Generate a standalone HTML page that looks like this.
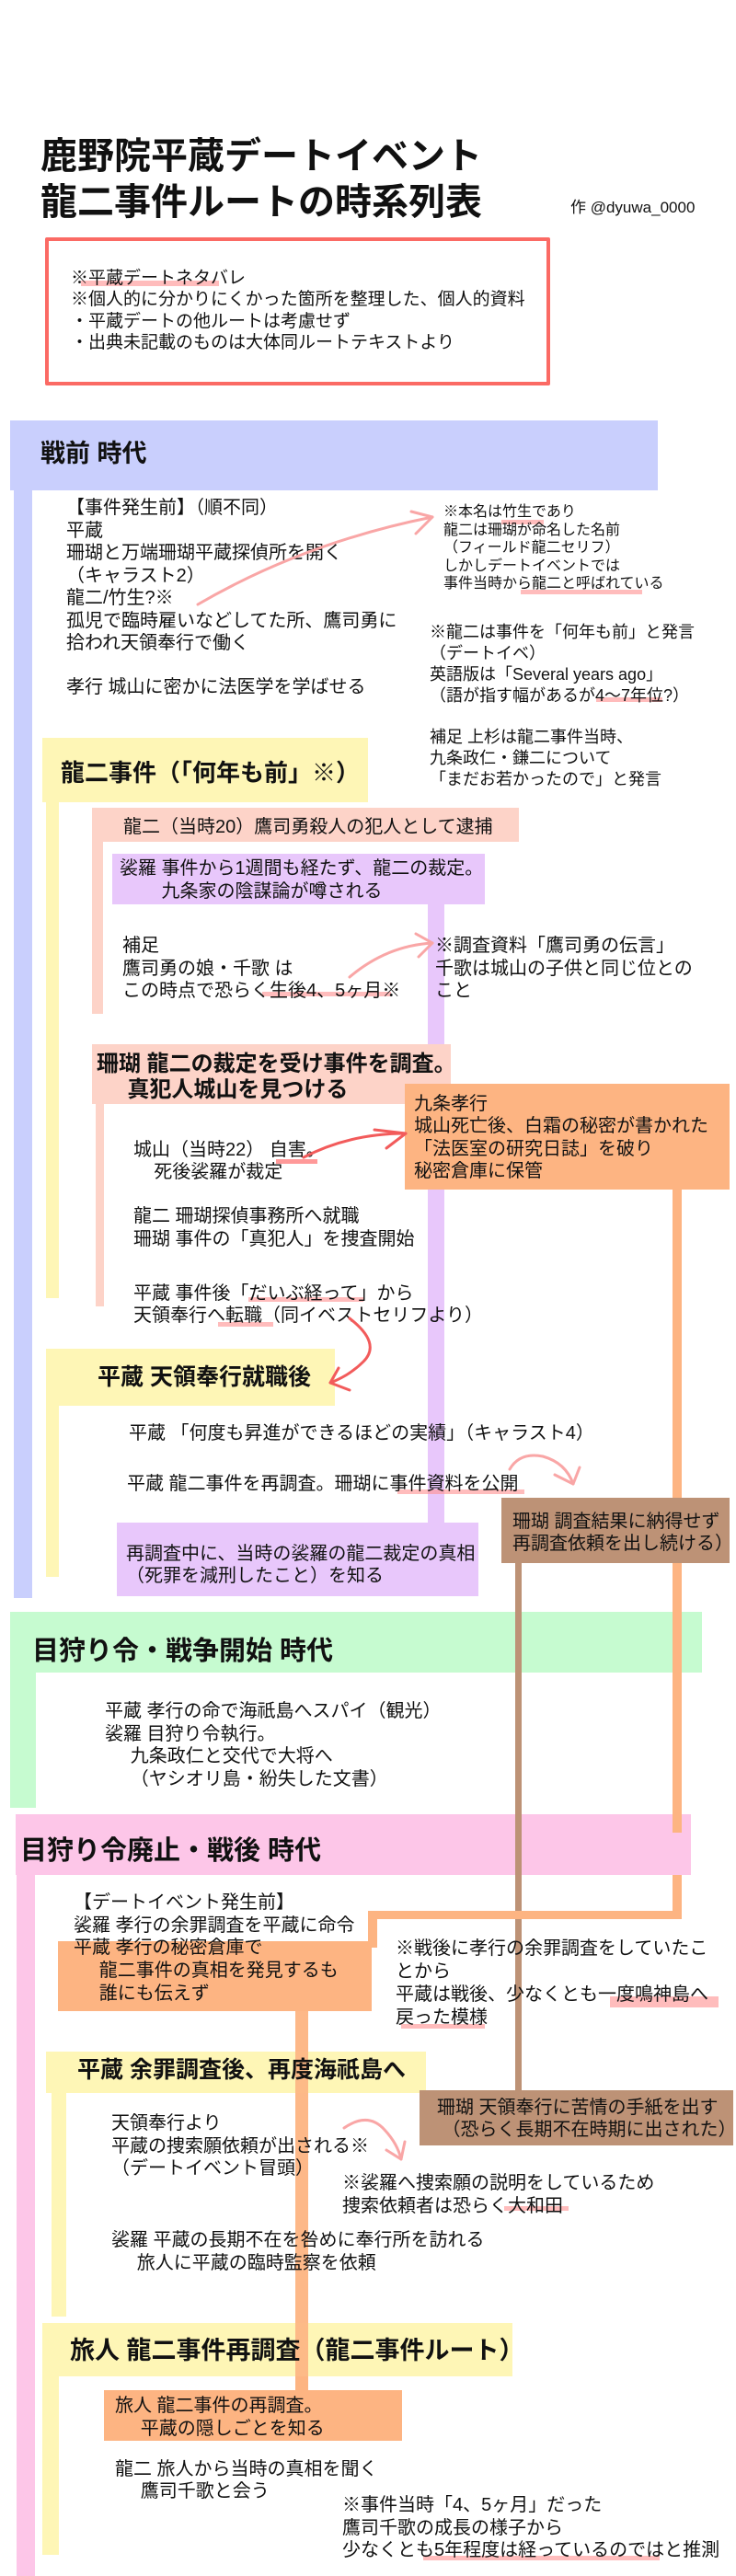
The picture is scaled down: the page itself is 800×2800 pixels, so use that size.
<!DOCTYPE html>
<html><head><meta charset="utf-8">
<style>
*{margin:0;padding:0;box-sizing:border-box}
body{width:800px;height:2800px;position:relative;background:#fff;overflow:hidden;font-family:"Liberation Sans","Noto Sans CJK JP",sans-serif;color:#111}
div{position:absolute}
.t{white-space:pre;font-size:20px;line-height:24.5px}
.hl{background:#ff8f8f;opacity:.6;height:5px}
</style></head><body>
<!-- title -->
<div class="t" style="left:44px;top:145px;font-size:40px;line-height:50px;font-weight:bold">鹿野院平蔵デートイベント
龍二事件ルートの時系列表</div>
<div class="t" style="left:620px;top:215px;font-size:17px;line-height:22px">作 @dyuwa_0000</div>
<div style="left:49px;top:258px;width:549px;height:161px;border:4px solid #fb6a64;border-radius:2px"></div>
<div class="hl" style="left:88px;top:305px;width:150px;height:6px"></div>
<div class="t" style="left:77px;top:291px;font-size:19px;line-height:23.3px">※平蔵デートネタバレ
※個人的に分かりにくかった箇所を整理した、個人的資料
・平蔵デートの他ルートは考慮せず
・出典未記載のものは大体同ルートテキストより</div>

<!-- 戦前 -->
<div style="left:11px;top:457px;width:704px;height:76px;background:#c9cffd"></div>
<div style="left:15px;top:533px;width:20px;height:1204px;background:#c9cffd"></div>
<div class="t" style="left:44px;top:475px;font-size:27px;line-height:36px;font-weight:bold">戦前 時代</div>
<div class="t" style="left:72px;top:540px">【事件発生前】（順不同）
平蔵
珊瑚と万端珊瑚平蔵探偵所を開く
（キャラスト2）
龍二/竹生?※
孤児で臨時雇いなどしてた所、鷹司勇に
拾われ天領奉行で働く</div>
<div class="t" style="left:72px;top:735px">孝行 城山に密かに法医学を学ばせる</div>
<div class="hl" style="left:545px;top:565px;width:46px"></div>
<div class="hl" style="left:566px;top:641px;width:132px"></div>
<div class="t" style="left:482px;top:547px;font-size:16px;line-height:19.5px">※本名は竹生であり
龍二は珊瑚が命名した名前
（フィールド龍二セリフ）
しかしデートイベントでは
事件当時から龍二と呼ばれている</div>
<div class="hl" style="left:648px;top:758px;width:72px"></div>
<div class="t" style="left:467px;top:676px;font-size:18px;line-height:23px">※龍二は事件を「何年も前」と発言
（デートイベ）
英語版は「Several years ago」
（語が指す幅があるが4～7年位?）</div>
<div class="t" style="left:467px;top:790px;font-size:18px;line-height:23px">補足 上杉は龍二事件当時、
九条政仁・鎌二について
「まだお若かったので」と発言</div>

<!-- 龍二事件 -->
<div style="left:46px;top:802px;width:354px;height:70px;background:#fef6b6"></div>
<div style="left:50px;top:872px;width:14px;height:539px;background:#fef6b6"></div>
<div class="t" style="left:66px;top:823px;font-size:26px;line-height:34px;font-weight:bold">龍二事件（「何年も前」※）</div>

<div style="left:100px;top:878px;width:464px;height:37px;background:#fdd3c8"></div>
<div style="left:100px;top:915px;width:12px;height:187px;background:#fdd3c8"></div>
<div class="t" style="left:134px;top:887px">龍二（当時20）鷹司勇殺人の犯人として逮捕</div>

<div style="left:465px;top:983px;width:18px;height:672px;background:#e8c7fb"></div>
<div style="left:122px;top:928px;width:405px;height:55px;background:#e8c7fb"></div>
<div class="t" style="left:130px;top:932px;line-height:25px">裟羅 事件から1週間も経たず、龍二の裁定。
　　 九条家の陰謀論が噂される</div>

<div class="hl" style="left:285px;top:1078px;width:140px"></div>
<div class="t" style="left:133px;top:1016px">補足
鷹司勇の娘・千歌 は
この時点で恐らく生後4、5ヶ月※</div>
<div class="t" style="left:473px;top:1016px">※調査資料「鷹司勇の伝言」
千歌は城山の子供と同じ位との
こと</div>

<div style="left:100px;top:1135px;width:390px;height:65px;background:#fdd3c8"></div>
<div style="left:104px;top:1200px;width:9px;height:220px;background:#fdd3c8"></div>
<div class="t" style="left:105px;top:1143px;font-size:24px;line-height:28px;font-weight:bold">珊瑚 龍二の裁定を受け事件を調査。
     真犯人城山を見つける</div>

<div style="left:731px;top:1293px;width:10px;height:790px;background:#fdb482"></div>
<div style="left:440px;top:1178px;width:353px;height:115px;background:#fdb482"></div>
<div class="t" style="left:450px;top:1188px;line-height:24.4px">九条孝行
城山死亡後、白霜の秘密が書かれた
「法医室の研究日誌」を破り
秘密倉庫に保管</div>

<div class="hl" style="left:300px;top:1260px;width:45px;background:#f55"></div>
<div class="t" style="left:145px;top:1238px;line-height:24px">城山（当時22） 自害。
    死後裟羅が裁定</div>
<div class="t" style="left:145px;top:1310px">龍二 珊瑚探偵事務所へ就職
珊瑚 事件の「真犯人」を捜査開始</div>
<div class="hl" style="left:270px;top:1410px;width:125px"></div>
<div class="hl" style="left:237px;top:1437px;width:60px"></div>
<div class="t" style="left:145px;top:1395px;line-height:23.5px">平蔵 事件後「だいぶ経って」から
天領奉行へ転職（同イベストセリフより）</div>

<div style="left:50px;top:1466px;width:314px;height:62px;background:#fef6b6"></div>
<div style="left:50px;top:1528px;width:14px;height:186px;background:#fef6b6"></div>
<div class="t" style="left:106px;top:1482px;font-size:25px;line-height:30px;font-weight:bold">平蔵 天領奉行就職後</div>
<div class="t" style="left:140px;top:1546px">平蔵 「何度も昇進ができるほどの実績」（キャラスト4）</div>
<div class="hl" style="left:432px;top:1619px;width:138px"></div>
<div class="t" style="left:138px;top:1601px">平蔵 龍二事件を再調査。珊瑚に事件資料を公開</div>

<div style="left:127px;top:1655px;width:393px;height:80px;background:#e8c7fb"></div>
<div class="t" style="left:137px;top:1678px;line-height:23.5px">再調査中に、当時の裟羅の龍二裁定の真相
（死罪を減刑したこと）を知る</div>

<div style="left:560px;top:1699px;width:7px;height:575px;background:#bd9276"></div>
<div style="left:545px;top:1628px;width:248px;height:71px;background:#bd9276"></div>
<div class="t" style="left:557px;top:1643px;line-height:23.5px">珊瑚 調査結果に納得せず
再調査依頼を出し続ける）</div>

<!-- 目狩り令 -->
<div style="left:11px;top:1752px;width:752px;height:66px;background:#c6fbd0"></div>
<div style="left:11px;top:1818px;width:28px;height:147px;background:#c6fbd0"></div>
<div style="left:560px;top:1752px;width:7px;height:66px;background:#bd9276"></div>
<div style="left:731px;top:1752px;width:10px;height:66px;background:#fdb482"></div>
<div class="t" style="left:35px;top:1777px;font-size:29px;line-height:36px;font-weight:bold">目狩り令・戦争開始 時代</div>
<div class="t" style="left:114px;top:1848px;line-height:24.5px">平蔵 孝行の命で海祇島へスパイ（観光）
裟羅 目狩り令執行。
     九条政仁と交代で大将へ
     （ヤシオリ島・紛失した文書）</div>

<!-- 戦後 -->
<div style="left:17px;top:1972px;width:734px;height:66px;background:#fdc6e8"></div>
<div style="left:18px;top:2038px;width:20px;height:762px;background:#fdc6e8"></div>
<div style="left:560px;top:1972px;width:7px;height:66px;background:#bd9276"></div>
<div style="left:731px;top:1972px;width:10px;height:20px;background:#fdb482"></div>
<div class="t" style="left:22px;top:1994px;font-size:29px;line-height:36px;font-weight:bold">目狩り令廃止・戦後 時代</div>

<div style="left:400px;top:2077px;width:341px;height:9px;background:#fdb482"></div>
<div style="left:400px;top:2077px;width:10px;height:40px;background:#fdb482"></div>
<div style="left:731px;top:2038px;width:10px;height:48px;background:#fdb482"></div>
<div style="left:63px;top:2110px;width:341px;height:76px;background:#fdb482"></div>
<div style="left:321px;top:2186px;width:14px;height:412px;background:#fdb482;opacity:.95"></div>
<div class="t" style="left:80px;top:2056px;line-height:24.7px">【デートイベント発生前】
裟羅 孝行の余罪調査を平蔵に命令
平蔵 孝行の秘密倉庫で
     龍二事件の真相を発見するも
     誰にも伝えず</div>
<div style="left:663px;top:2170px;width:118px;height:12px;background:#ff8f8f;opacity:.6"></div>
<div class="hl" style="left:436px;top:2200px;width:91px"></div>
<div class="t" style="left:430px;top:2106px;line-height:25px">※戦後に孝行の余罪調査をしていたこ
とから
平蔵は戦後、少なくとも一度鳴神島へ
戻った模様</div>

<div style="left:50px;top:2230px;width:413px;height:45px;background:#fef6b6"></div>
<div style="left:56px;top:2275px;width:16px;height:243px;background:#fef6b6"></div>
<div style="left:321px;top:2230px;width:14px;height:45px;background:#fdb482;opacity:.9"></div>
<div class="t" style="left:84px;top:2235px;font-size:25px;line-height:30px;font-weight:bold">平蔵 余罪調査後、再度海祇島へ</div>

<div style="left:456px;top:2272px;width:341px;height:60px;background:#bd9276"></div>
<div class="t" style="left:475px;top:2280px;line-height:23.5px">珊瑚 天領奉行に苦情の手紙を出す
 （恐らく長期不在時期に出された）</div>

<div class="t" style="left:121px;top:2296px;line-height:24.5px">天領奉行より
平蔵の捜索願依頼が出される※
（デートイベント冒頭）</div>
<div class="hl" style="left:548px;top:2398px;width:70px"></div>
<div class="t" style="left:372px;top:2361px;line-height:25px">※裟羅へ捜索願の説明をしているため
捜索依頼者は恐らく大和田</div>
<div class="t" style="left:121px;top:2423px;line-height:25px">裟羅 平蔵の長期不在を咎めに奉行所を訪れる
     旅人に平蔵の臨時監察を依頼</div>

<div style="left:46px;top:2525px;width:511px;height:58px;background:#fef6b6"></div>
<div style="left:46px;top:2583px;width:18px;height:194px;background:#fef6b6"></div>
<div style="left:321px;top:2525px;width:14px;height:73px;background:#fdb482;opacity:.9"></div>
<div class="t" style="left:76px;top:2537px;font-size:27px;line-height:36px;font-weight:bold">旅人 龍二事件再調査（龍二事件ルート）</div>

<div style="left:113px;top:2598px;width:324px;height:55px;background:#fdb482"></div>
<div class="t" style="left:125px;top:2603px;line-height:25px">旅人 龍二事件の再調査。
     平蔵の隠しごとを知る</div>
<div class="t" style="left:125px;top:2673px;line-height:23.5px">龍二 旅人から当時の真相を聞く
     鷹司千歌と会う</div>
<div class="hl" style="left:460px;top:2778px;width:257px"></div>
<div class="t" style="left:372px;top:2711px;line-height:24.5px">※事件当時「4、5ヶ月」だった
鷹司千歌の成長の様子から
少なくとも5年程度は経っているのではと推測</div>

<svg width="800" height="2800" style="position:absolute;left:0;top:0" fill="none" stroke-linecap="round" stroke-linejoin="round">
<g stroke="#f9a6a6" stroke-width="3">
<path d="M215 657 Q330 590 470 562"/><path d="M447 556 L470 562 L452 580"/>
<path d="M380 1062 Q420 1028 470 1025"/><path d="M452 1015 L470 1025 L455 1040"/>
<path d="M554 1597 Q565 1578 590 1583 Q615 1590 623 1613"/><path d="M603 1603 L623 1613 L630 1595"/>
<path d="M374 2313 Q400 2295 418 2315 Q432 2330 436 2347"/><path d="M420 2337 L436 2347 L440 2328"/>
</g>
<g stroke="#f25b5b" stroke-width="3">
<path d="M330 1258 Q380 1232 441 1232"/><path d="M420 1248 L441 1232 L407 1228"/>
<path d="M380 1433 Q415 1460 395 1480 Q380 1495 359 1503"/><path d="M368 1487 L359 1503 L380 1511"/>
</g>
</svg>
</body></html>
